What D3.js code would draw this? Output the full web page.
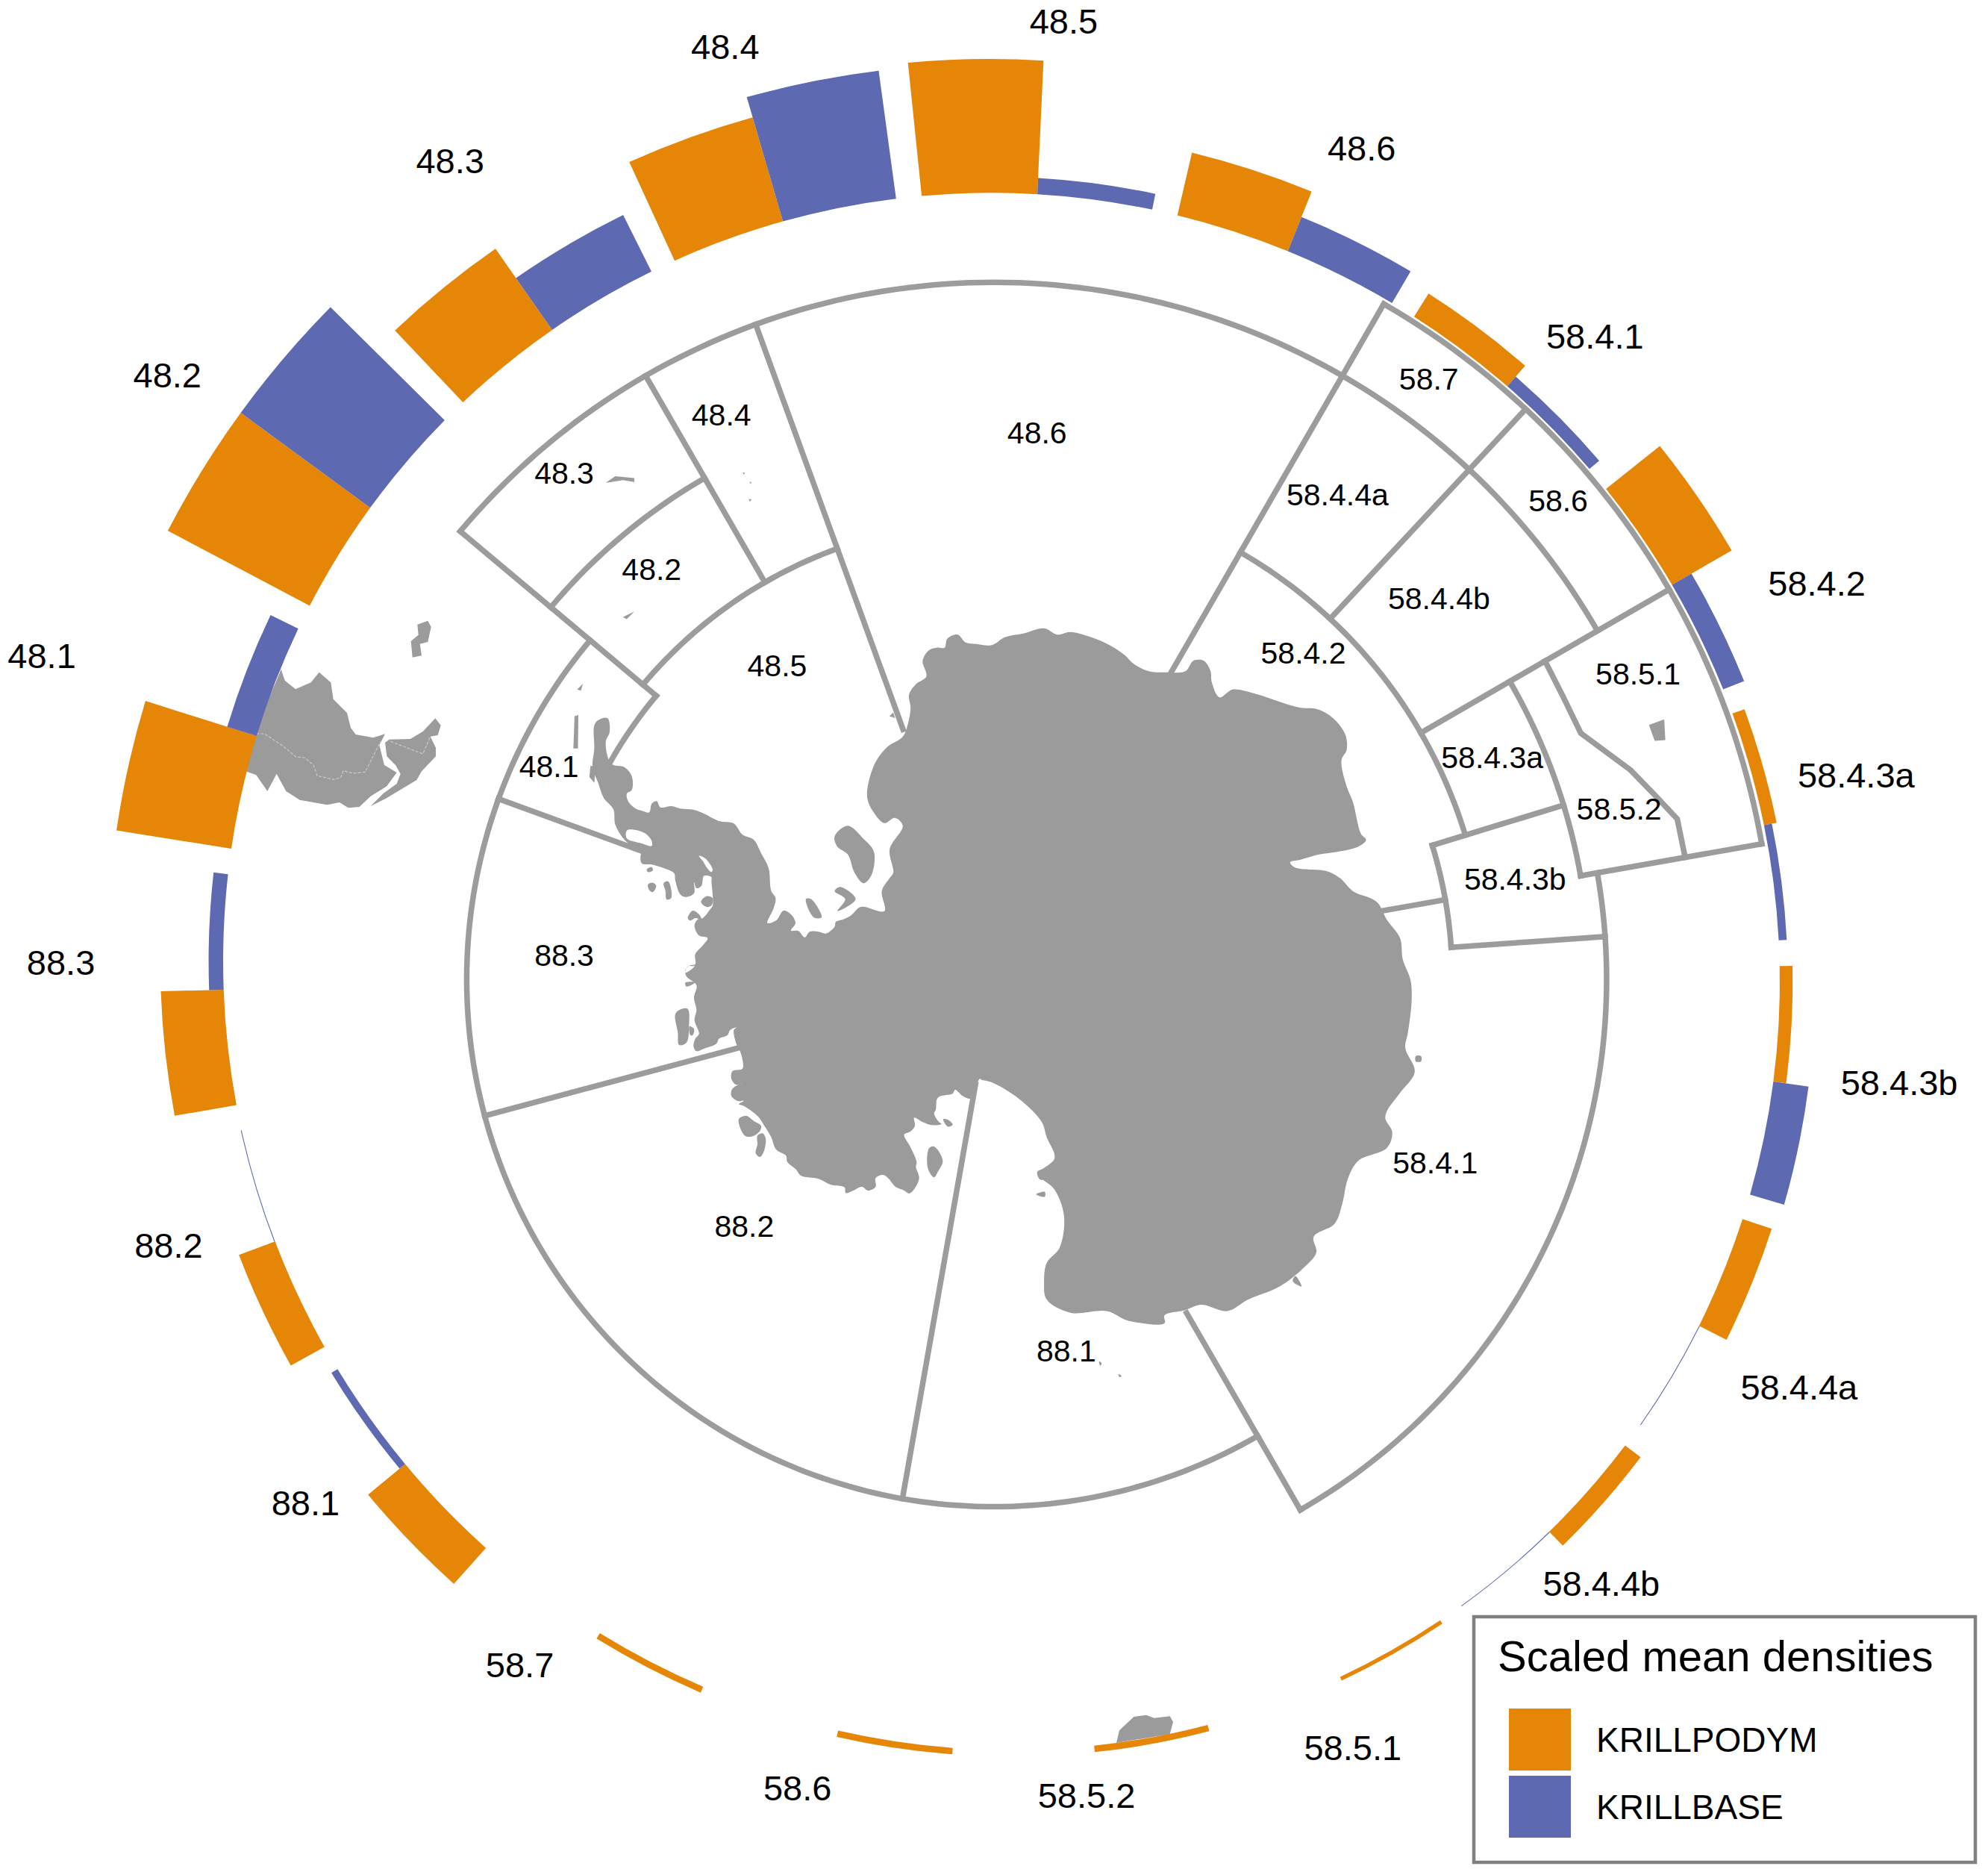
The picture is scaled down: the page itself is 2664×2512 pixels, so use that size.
<!DOCTYPE html>
<html><head><meta charset="utf-8">
<script src="https://cdnjs.cloudflare.com/ajax/libs/d3/7.8.5/d3.min.js"></script>
<style>html,body{margin:0;padding:0;background:#fff}svg{display:block}text{font-family:"Liberation Sans",Arial,sans-serif;fill:#000}</style>
</head><body><svg id="c" width="2664" height="2512"></svg>
<script>
// ---- DATA ----
const sectors = ["48.1","48.2","48.3","48.4","48.5","48.6","58.4.1","58.4.2","58.4.3a","58.4.3b","58.4.4a","58.4.4b","58.5.1","58.5.2","58.6","58.7","88.1","88.2","88.3"];
const seriesNames = ["KRILLPODYM","KRILLBASE"];
const krillpodym = [0.72,0.99,0.61,0.67,0.83,0.40,0.17,0.43,0.08,0.08,0.19,0.12,0.025,0.04,0.04,0.04,0.30,0.24,0.39];
const krillbase  = [0.19,0.99,0.39,0.80,0.10,0.23,0.08,0.14,0.05,0.22,0.005,0.005,0,0,0,0,0.045,0.005,0.09];
const seriesColors = ["#E58606","#5D69B1"];
const legendTitle = "Scaled mean densities";

// CCAMLR boundaries, geographic: [lat, lon from, lon to]
const parallels = [[-50,-50,60],[-45,30,80],[-57,-50,-30],[-64,-50,-20],[-65,-60.5,-50],[-60,-70,-50],[-60,150,290],[-62,30,73],[-64,73,86],[-56,60,80],[-55,80,150]];
// [lon, lat from, lat to]
const meridians = [[-50,-50,-65],[-30,-50,-64],[-20,-50,-75],[-70,-60,-68.7],[-105,-60,-75],[-170,-60,-84],[150,-55,-68.2],[30,-45,-70],[80,-64,-68.2],[86,-64,-55],[73,-56,-64],[60,-45,-62],[43,-45,-62],[80,-45,-56]];
const kerguelenLine = [[60,-53.6],[67.25,-53.6],[71.8,-51.6],[76.8,-49.7],[80,-49.7]];

// Coastlines, in the units of several reading frames
const coastEast = [[470,295],[480,270],[485,240],[482,215],[495,195],[515,180],[508,150],[520,130],[535,125],[550,125],[555,108],[575,100],[590,115],[610,118],[640,120],[665,105],[700,98],[740,88],[765,100],[790,95],[830,105],[865,120],[895,140],[910,155],[940,170],[975,172],[1010,170],[1025,150],[1045,150],[1058,170],[1060,190],[1075,220],[1100,205],[1140,212],[1180,225],[1210,235],[1230,240],[1260,242],[1290,258],[1315,290],[1318,320],[1308,340],[1318,390],[1330,420],[1345,480],[1355,492],[1340,505],[1300,515],[1265,520],[1230,530],[1210,535],[1220,545],[1280,552],[1305,565],[1330,590],[1375,610],[1395,645],[1420,680],[1425,720],[1440,760],[1442,800],[1435,860],[1430,890],[1448,935],[1420,975],[1395,1010],[1392,1025],[1405,1050],[1395,1080],[1340,1105],[1320,1140],[1310,1185],[1295,1225],[1255,1250],[1260,1280],[1235,1310],[1190,1345],[1130,1370],[1090,1392],[1040,1380],[1010,1390],[970,1400],[970,1415],[900,1410],[860,1392],[790,1395],[745,1370],[740,1335],[745,1300],[770,1270],[778,1210],[760,1160],[730,1130],[760,1100],[745,1060],[735,1030],[690,985],[640,955],[620,950]];
const coastRoss = [[1240,135],[1225,160],[1200,215],[1170,205],[1140,180],[1130,195],[1070,212],[1062,260],[1055,275],[1075,310],[1085,318],[1045,322],[1010,310],[975,292],[978,325],[960,348],[935,360],[960,410],[985,470],[982,490],[995,535],[975,580],[955,597],[935,585],[900,570],[870,535],[850,522],[820,535],[820,570],[790,585],[765,570],[730,585],[700,595],[695,572],[640,562],[590,538],[520,525],[500,500],[465,470],[460,445],[420,420],[400,370],[370,320],[345,285],[290,245],[270,238],[290,225],[265,225],[240,205],[245,175],[285,152],[260,160],[240,135],[245,105],[285,95],[285,60],[275,25]];
const coastEllsworth = [[260,355],[250,300],[260,290],[235,300],[225,320],[190,335],[180,355],[130,375],[100,385],[88,365],[95,335],[110,315],[92,260],[100,220],[90,170],[100,120],[60,85],[55,60],[75,40],[95,35],[95,0]];
const coastPeninsula = [[275,760],[245,765],[235,790],[275,760],[275,715],[305,680],[325,650],[290,640],[272,600],[285,575],[305,570],[335,535],[345,520],[340,420],[340,405],[310,400],[300,440],[280,450],[270,425],[270,470],[235,485],[215,475],[195,420],[190,390],[150,370],[100,355],[60,350],[55,320],[60,300],[0,265],[-46,196],[-54,133],[-93,87],[-115,27],[-138,-36],[-131,-111],[-131,-204],[-115,-226],[-78,-234],[-69,-180],[-85,-135],[-63,-51],[-9,-36],[20,0],[20,55],[0,70],[5,100],[35,130],[65,140],[90,145],[100,110],[120,100],[135,125],[180,120],[215,130],[270,135],[310,150],[370,180],[430,190],[465,235],[510,255],[540,310],[570,370],[580,460],[598,490],[590,530],[565,590],[600,580],[630,540],[660,555],[678,590],[660,620],[690,622],[715,648],[735,625],[770,625],[800,632],[835,605],[840,585],[870,575],[900,560]];
const coastWeddell = [[390,620],[435,628],[430,590],[445,565],[452,555],[445,510],[470,465],[455,450],[435,460],[415,440],[402,410],[415,350],[440,315]];
const peninsulaBays = [[[290,320],[315,330],[345,375],[340,385],[320,365],[305,340]],[[0,218],[30,215],[75,230],[100,260],[100,280],[60,270],[0,250]]];
const peninsulaIslands = [[[85,435],[105,428],[118,440],[105,465],[92,460]],[[148,430],[165,422],[175,440],[178,490],[160,495],[155,460]],[[80,375],[100,365],[105,378],[85,385]],[[298,505],[320,482],[345,490],[340,520],[320,525]],[[245,570],[265,540],[290,555],[300,575],[275,570],[255,580]]];
const ellsworthIslands = [[[15,235],[40,215],[65,215],[70,280],[60,350],[30,360],[25,310]],[[55,110],[95,108],[60,125]],[[72,285],[90,295],[85,320],[75,320]]];
const rossIslands = [[[270,298],[300,285],[330,305],[360,325],[355,345],[330,365],[295,365]],[[345,365],[365,355],[378,375],[370,430],[355,450],[338,435],[345,400]],[[1035,415],[1055,408],[1090,465],[1070,510],[1055,532],[1030,495]],[[1092,298],[1110,300],[1130,320],[1110,328]],[[1470,510],[1500,500],[1500,540],[1480,540]],[[1465,600],[1500,590],[1500,610]]];
const antarcticIslands = [
 [[340,485],[365,465],[395,490],[415,515],[410,560],[395,575],[378,555],[365,520],[345,505]],
 [[285,605],[295,605],[315,640],[300,640]],
 [[340,590],[350,582],[380,605],[345,628],[360,605]],
 [[1450,905],[1460,905],[1460,915],[1450,915]],
 [[1220,1325],[1232,1345],[1215,1335]],
 [[845,1488],[850,1492],[847,1496]],[[882,1512],[888,1516],[884,1518]]
];
const scotiaIslands = [
 [[415,562],[440,545],[490,550],[490,560],[460,555],[430,560]],
 [[460,915],[490,900],[470,920]],
 [[340,1105],[355,1090],[350,1108]],
 [[333,1175],[343,1172],[342,1260],[330,1260]],
 [[375,1305],[388,1310],[385,1350],[372,1335]],
 [[792,560],[797,560],[797,566]],[[790,605],[798,605],[794,612]],[[775,535],[780,535],[778,542]],
 [[1160,1175],[1170,1165],[1175,1180]]
];
const kerguelen = [[1195,1065],[1235,1052],[1238,1100],[1210,1102]];
const southAmerica = [[290,350],[305,395],[348,430],[410,403],[443,362],[490,403],[500,470],[555,525],[570,585],[590,612],[660,625],[708,610],[685,655],[705,735],[755,765],[715,820],[650,860],[605,903],[560,907],[525,885],[475,895],[365,875],[310,840],[272,770],[235,840],[190,775],[148,760],[188,615],[215,530]];
const fuego = [[708,645],[725,632],[810,630],[860,600],[910,547],[932,575],[920,615],[890,620],[912,665],[912,700],[855,760],[835,795],[760,840],[710,870],[650,900],[700,850],[755,810],[770,770],[750,735],[715,700]];
const falkland = [[838,170],[880,155],[893,180],[880,240],[848,248],[855,295],[818,302],[812,237],[842,212]];
const borders = [[[190,608],[225,610],[300,660],[350,702],[385,705],[420,735],[435,778],[500,793],[530,785],[540,758],[580,768],[628,763],[690,640]],[[730,640],[860,690],[888,625]]];
const tasmania = [[288,285],[300,235],[358,180],[408,173],[440,185],[503,178],[516,200],[503,250]];

// ---- LAYOUT (reference pixels of the 1568-wide view) ----
const view = d3.scaleLinear([0,1568],[0,2664]);
const outerLabelAt = [[33,517],[132,296],[355,127],[572,37],[839,17],[1074,117],[1258,265],[1433,460],[1464,611],[1498,854],[1419,1094],[1263,1249],[1067,1378],[857,1416],[629,1410],[410,1313],[241,1185],[133,982],[48,759]];
const innerLabelAt = [[433,604],[514,449],[445,373],[569,327],[613,525],[818,341],[1132,917],[1028,515],[1177,597],[1195,693],[1055,390],[1135,472],[1292,531],[1277,638],[1229,395],[1127,299],[841,1065],[587,967],[445,753]];

// ---- DRAW ----
const svg = d3.select("#c");
svg.append("rect").attr("width",2664).attr("height",2512).attr("fill","#fff");
const landColor="#9b9b9b", lineColor="#9c9c9c";

const projection = d3.geoAzimuthalEqualArea().rotate([0,90]).scale(1365).translate([1332,1312]).precision(0.3);
const geo = d3.geoPath(projection);
const polygon = d3.line().curve(d3.curveLinearClosed);
const smooth = d3.line().curve(d3.curveCatmullRomClosed.alpha(0.5));
const frame = (x0,x1,xm,y0,y1,ym) => { const sx=d3.scaleLinear([0,xm],[x0,x1]), sy=d3.scaleLinear([0,ym],[y0,y1]); return p=>p.map(([a,b])=>[sx(a),sy(b)]); };
const frameCoast = frame(880,1980,1568,780,1880,1568);
const frameScotia = frame(600,1400,1568,360,1160,1568);
const frameEast = frame(1600,2400,1568,360,1260,1568);
const frameAmerica = frame(280,680,1200,780,1180,1200);
const frameTas = frame(1400,1700,900,2240,2400,480);
const frameP = frame(840,1140,900,1040,1340,900);
const frameQ = frame(900,1200,900,1280,1580,900);
const frameR = frame(900,1400,1500,1400,1700,900);

const antarctica = [...frameCoast(coastEast),...frameR(coastRoss),...frameQ(coastEllsworth),...frameP(coastPeninsula),...frameCoast(coastWeddell)];
const smoothFills = [antarctica,...antarcticIslands.map(frameCoast),...rossIslands.map(frameR),...ellsworthIslands.map(frameQ),...peninsulaIslands.map(frameP)];
const flatFills = [...scotiaIslands.map(frameScotia),frameEast(kerguelen),...[southAmerica,fuego,falkland].map(frameAmerica),frameTas(tasmania)];
svg.append("g").attr("fill",landColor).selectAll("path").data(smoothFills).join("path").attr("d",smooth);
svg.append("g").attr("fill",landColor).selectAll("path").data(flatFills).join("path").attr("d",polygon);
svg.append("g").attr("fill","#fff").selectAll("path").data(peninsulaBays.map(frameP)).join("path").attr("d",smooth);
svg.append("g").attr("fill","none").attr("stroke","#c9c9c9").attr("stroke-width",1.2).attr("stroke-dasharray","4 2")
  .selectAll("path").data(borders.map(frameAmerica)).join("path").attr("d",d3.line());

const lines = [
  ...parallels.map(([lat,a,b])=>d3.range(a,b+0.01,1).concat(b).map(lon=>[lon,lat])),
  ...meridians.map(([lon,a,b])=>[[lon,a],[lon,(a+b)/2],[lon,b]]),
  kerguelenLine
];
svg.append("g").attr("fill","none").attr("stroke",lineColor).attr("stroke-width",7.5).attr("stroke-linecap","square").attr("stroke-linejoin","miter")
  .selectAll("path").data(lines).join("path").attr("d",c=>geo({type:"LineString",coordinates:c}));

// bars
const gapFrac = 0.1;
const sectorScale = d3.scaleBand().domain(sectors).range([277.15,277.15+360]).paddingInner(gapFrac).paddingOuter(gapFrac/2);
const seriesScale = d3.scaleBand().domain(seriesNames).range([0,sectorScale.bandwidth()]);
const height = d3.scaleLinear([0,1],[1043,1259]);
const rad = d3.scaleLinear([0,360],[0,2*Math.PI]);
const arc = d3.arc();
const bars = sectors.flatMap((s,i)=>[
  {s,k:seriesNames[0],v:krillpodym[i],c:seriesColors[0]},
  {s,k:seriesNames[1],v:krillbase[i],c:seriesColors[1]}]).filter(d=>d.v>0);
svg.append("g").attr("transform","translate(1342,1301.5) matrix(1,0.017,-0.004,1,0,0)").selectAll("path").data(bars).join("path")
  .attr("fill",d=>d.c)
  .attr("d",d=>{const a=sectorScale(d.s)+seriesScale(d.k);
    return arc({innerRadius:height(0),outerRadius:height(d.v),startAngle:rad(a),endAngle:rad(a+seriesScale.bandwidth())});});

// labels
svg.append("g").attr("font-size",47).attr("text-anchor","middle").selectAll("text").data(sectors).join("text")
  .attr("x",(d,i)=>view(outerLabelAt[i][0])).attr("y",(d,i)=>view(outerLabelAt[i][1])).attr("dy","0.35em").text(d=>d);
svg.append("g").attr("font-size",41).attr("text-anchor","middle").selectAll("text").data(sectors).join("text")
  .attr("x",(d,i)=>view(innerLabelAt[i][0])).attr("y",(d,i)=>view(innerLabelAt[i][1])).attr("dy","0.35em").text(d=>d);

// legend
const lg = svg.append("g");
lg.append("rect").attr("x",1975).attr("y",2166).attr("width",672).attr("height",329).attr("fill","#fff").attr("stroke","#808080").attr("stroke-width",4.5);
lg.append("text").attr("x",2007).attr("y",2239).attr("font-size",58).text(legendTitle);
const legendRow = d3.scaleBand().domain(seriesNames).range([2285,2465]);
seriesNames.forEach((n,i)=>{
  lg.append("rect").attr("x",2022).attr("y",legendRow(n)+4).attr("width",83).attr("height",83).attr("fill",seriesColors[i]);
  lg.append("text").attr("x",2139).attr("y",legendRow(n)+62).attr("font-size",46).text(n);
});
</script></body></html>
